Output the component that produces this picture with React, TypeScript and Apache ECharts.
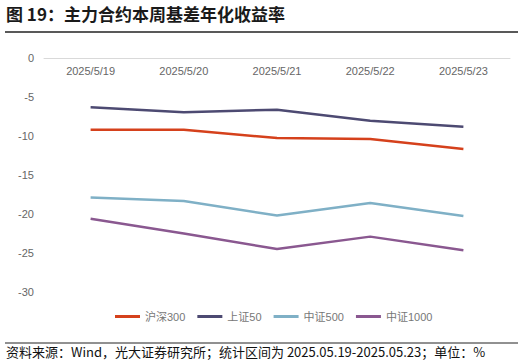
import React, { useEffect, useRef } from "react";
import * as echarts from "echarts";

const categories = ["2025/5/19", "2025/5/20", "2025/5/21", "2025/5/22", "2025/5/23"];
const hs300 = [-9.19, -9.19, -10.26, -10.38, -11.67];
const sz50 = [-6.32, -6.96, -6.62, -8.03, -8.8];
const zz500 = [-17.9, -18.33, -20.2, -18.59, -20.26];
const zz1000 = [-20.6, -22.5, -24.49, -22.9, -24.65];

const seriesNames = ["沪深300", "上证50", "中证500", "中证1000"];
const seriesColors = ["#d5411c", "#4d4a72", "#7fb0c6", "#8a5890"];

const titleText = "图 19：主力合约本周基差年化收益率";
const footerText = "资料来源：Wind，光大证券研究所；统计区间为 2025.05.19-2025.05.23；单位：%";

export default function App() {
  const ref = useRef<HTMLDivElement>(null);
  useEffect(() => {
    document.body.style.margin = "0";
    const chart = echarts.init(ref.current!, null, { renderer: "svg" });
    const dataSets = [hs300, sz50, zz500, zz1000];
    chart.setOption({
      animation: false,
      textStyle: { fontFamily: "Liberation Sans, Noto Sans CJK SC, sans-serif" },
      grid: { left: 44, right: 20, top: 58, bottom: 72 },
      xAxis: {
        type: "category",
        position: "top",
        data: categories,
        boundaryGap: true,
        axisLine: { onZero: false, lineStyle: { color: "#d9d9d9", width: 1 } },
        axisTick: { inside: false, length: 4, lineStyle: { color: "#d9d9d9" } },
        axisLabel: { inside: true, color: "#666", fontSize: 11, margin: 7 },
      },
      yAxis: {
        type: "value",
        min: -30,
        max: 0,
        interval: 5,
        splitLine: { show: false },
        axisLine: { show: false },
        axisTick: { show: false },
        axisLabel: { color: "#666", fontSize: 11, margin: 10 },
      },
      legend: {
        left: 115,
        top: 311,
        padding: 0,
        icon: "rect",
        itemWidth: 25,
        itemHeight: 3,
        itemGap: 12,
        itemStyle: { borderWidth: 0 },
        textStyle: { color: "#777", fontSize: 11, fontFamily: "Liberation Sans, Noto Sans CJK SC, sans-serif" },
        data: seriesNames,
      },
      series: seriesNames.map((name, i) => ({
        name,
        type: "line",
        data: dataSets[i],
        showSymbol: false,
        symbol: "none",
        lineStyle: { color: seriesColors[i], width: 2.5 },
        itemStyle: { color: seriesColors[i] },
      })),
      graphic: [
        {
          type: "text",
          left: 6,
          top: 5,
          style: {
            text: titleText,
            fontSize: 17,
            fontWeight: "bold",
            fill: "#1a1a1a",
            fontFamily: "Noto Sans CJK SC, sans-serif",
          },
        },
        {
          type: "line",
          shape: { x1: 5, y1: 32, x2: 518, y2: 32 },
          style: { stroke: "#222", lineWidth: 1.5 },
        },
        {
          type: "line",
          shape: { x1: 5, y1: 343, x2: 518, y2: 343 },
          style: { stroke: "#222", lineWidth: 1 },
        },
        {
          type: "text",
          left: 6,
          top: 345,
          style: {
            text: footerText,
            fontSize: 13,
            fill: "#111",
            fontFamily: "Noto Sans CJK SC, sans-serif",
          },
        },
      ],
    });
    return () => chart.dispose();
  }, []);
  return <div ref={ref} style={{ width: 530, height: 364 }} />;
}
